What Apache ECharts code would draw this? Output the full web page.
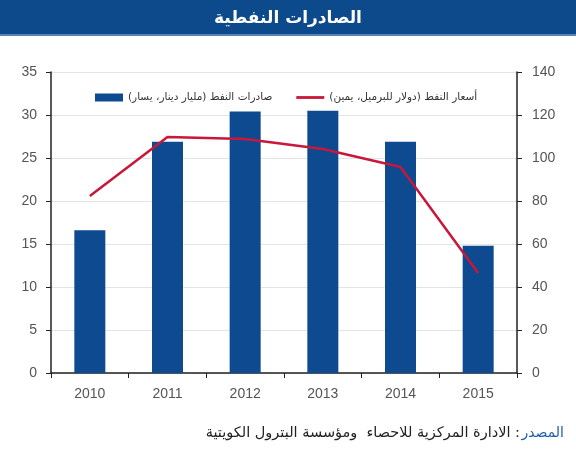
<!DOCTYPE html>
<html>
<head>
<meta charset="utf-8">
<script src="https://cdn.jsdelivr.net/npm/echarts@6/dist/echarts.min.js"></script>
<style>
  html, body { margin: 0; padding: 0; background: #fff; }
  #main { width: 576px; height: 450px; }
</style>
</head>
<body>
<div id="main"></div>
<script>
var years = ['2010', '2011', '2012', '2013', '2014', '2015'];
var exportsKD = [16.6, 26.9, 30.4, 30.5, 26.9, 14.8];   // مليار دينار
var oilPrice = [82.3, 109.8, 108.8, 104.2, 95.8, 46.5]; // دولار للبرميل

var barName = 'صادرات النفط (مليار دينار، يسار)';
var lineName = 'أسعار النفط (دولار للبرميل، يمين)';

var chart = echarts.init(document.getElementById('main'));
var labelFont = {color: '#555', fontSize: 14, fontFamily: 'Liberation Sans, Arial'};

chart.setOption({
    animation: false,
    backgroundColor: '#fff',
    graphic: [
        {type: 'rect', left: 0, top: 0, shape: {width: 576, height: 34}, style: {fill: '#0d4a8c'}},
        {type: 'rect', left: 0, top: 34, shape: {width: 576, height: 2}, style: {fill: '#5b82b5'}},
        // المصدر
        {
            type: 'text', right: 12, top: 426,
            style: {text: 'المصدر', fontFamily: 'DejaVu Sans', fontSize: 14, fill: '#1f5fa8'}
        },
        {
            type: 'text', right: 56, top: 426,
            style: {
                text: 'الادارة المركزية للاحصاء  ومؤسسة البترول الكويتية :',
                fontFamily: 'DejaVu Sans', fontSize: 14.5, fill: '#222'
            }
        }
    ],
    title: {
        text: 'الصادرات النفطية',
        left: 'center', top: 5,
        textStyle: {color: '#fff', fontSize: 17, fontWeight: 'bold', fontFamily: 'DejaVu Sans'}
    },
    legend: {
        data: [
            {name: barName, icon: 'rect'},
            {name: lineName, icon: 'path://M0,0h30v3h-30z'}
        ],
        top: 87, left: 90,
        itemGap: 24,
        itemWidth: 28, itemHeight: 8,
        textStyle: {fontSize: 10.5, color: '#333', fontFamily: 'DejaVu Sans'}
    },
    grid: {left: 51, right: 59, top: 72, bottom: 77},
    xAxis: {
        type: 'category',
        data: years,
        axisLine: {lineStyle: {color: '#222', width: 1.5}},
        axisTick: {show: true, length: 5, lineStyle: {color: '#222'}},
        axisLabel: Object.assign({margin: 14}, labelFont)
    },
    yAxis: [
        {
            type: 'value', min: 0, max: 35, interval: 5,
            axisLine: {show: true, lineStyle: {color: '#222', width: 1.5}},
            axisTick: {show: true, length: 5, lineStyle: {color: '#222'}},
            axisLabel: Object.assign({margin: 14}, labelFont),
            splitLine: {lineStyle: {color: '#e4e4e4'}}
        },
        {
            type: 'value', min: 0, max: 140, interval: 20,
            axisLine: {show: true, lineStyle: {color: '#222', width: 1.5}},
            axisTick: {show: true, length: 5, lineStyle: {color: '#222'}},
            axisLabel: Object.assign({margin: 15}, labelFont),
            splitLine: {show: false}
        }
    ],
    series: [
        {
            name: barName, type: 'bar', data: exportsKD,
            barWidth: 31,
            itemStyle: {color: '#0d4a8f'}
        },
        {
            name: lineName, type: 'line', yAxisIndex: 1, data: oilPrice,
            symbol: 'none',
            lineStyle: {color: '#c8173a', width: 2.5},
            itemStyle: {color: '#c8173a'}
        }
    ]
});
</script>
</body>
</html>
